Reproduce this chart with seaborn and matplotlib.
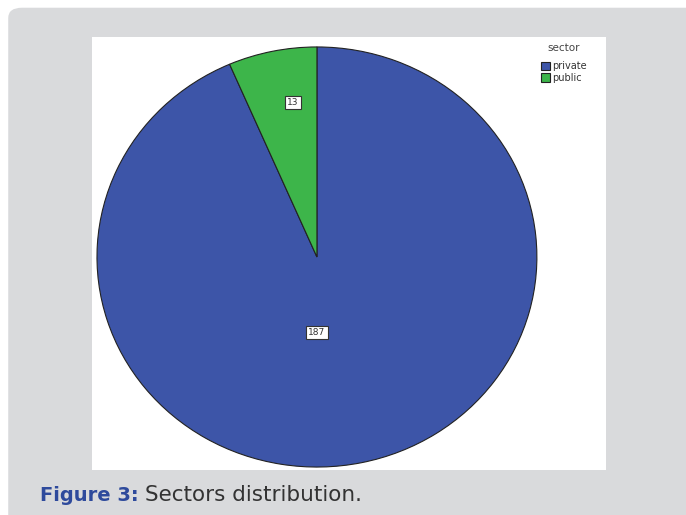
import matplotlib
matplotlib.use("Agg")
import matplotlib.pyplot as plt
from matplotlib.patches import FancyBboxPatch
import seaborn as sns

# data
sectors = ["private", "public"]
counts = [187, 13]
colors = ["#3d55a8", "#3db54a"]

sns.set_style("white")
plt.rcParams['font.family'] = ['DejaVu Sans']

fig = plt.figure(figsize=(6.86, 5.15), dpi=100)
fig.patch.set_facecolor("white")

# grey panel behind the chart
panel = FancyBboxPatch((0.012, -0.05), 1.1, 1.035, boxstyle="round,pad=0,rounding_size=0.02",
                       transform=fig.transFigure, facecolor="#d9dadc", edgecolor="none", zorder=-5)
fig.patches.append(panel)

ax = fig.add_axes([0.134, 0.0874, 0.749, 0.841])
ax.set_zorder(2)

wedges, texts, autotexts = ax.pie(counts, colors=colors, startangle=90, counterclock=False,
                                  autopct=lambda p: f"{p * sum(counts) / 100:.0f}",
                                  pctdistance=0.74,
                                  wedgeprops=dict(edgecolor="#222222", linewidth=0.8))
ax.set_frame_on(True)
ax.set_facecolor("white")
ax.set_aspect("auto")
ax.set_xlim(-1.023, 1.313)
ax.set_ylim(-1.014, 1.048)
for s in ax.spines.values():
    s.set_visible(False)

# label positions as in the original
autotexts[0].set_position((0, -0.36))
autotexts[1].set_position((-0.11, 0.735))
for t in autotexts:
    t.set_fontsize(6.5)
    t.set_color("#333333")
    t.set_bbox(dict(boxstyle="square,pad=0.25", facecolor="white", edgecolor="#333333", linewidth=0.8))

leg = ax.legend(wedges, sectors, title="sector", loc="upper left",
                bbox_to_anchor=(0.778, 0.93), bbox_transform=fig.transFigure,
                frameon=False, fontsize=7, title_fontsize=7.5,
                handlelength=1.0, handleheight=1.0, handletextpad=0.2,
                labelspacing=0.15, borderpad=0.2)
leg.get_title().set_color("#444444")
leg._legend_box.sep = 6
for t in leg.get_texts():
    t.set_color("#333333")

fig.text(0.058, 0.028, "Figure 3:", fontsize=14, fontweight="bold", color="#2e4a9c")
fig.text(0.211, 0.028, "Sectors distribution.", fontsize=15.5, color="#333333")

fig.savefig("out.png", dpi=100, facecolor=fig.get_facecolor())
